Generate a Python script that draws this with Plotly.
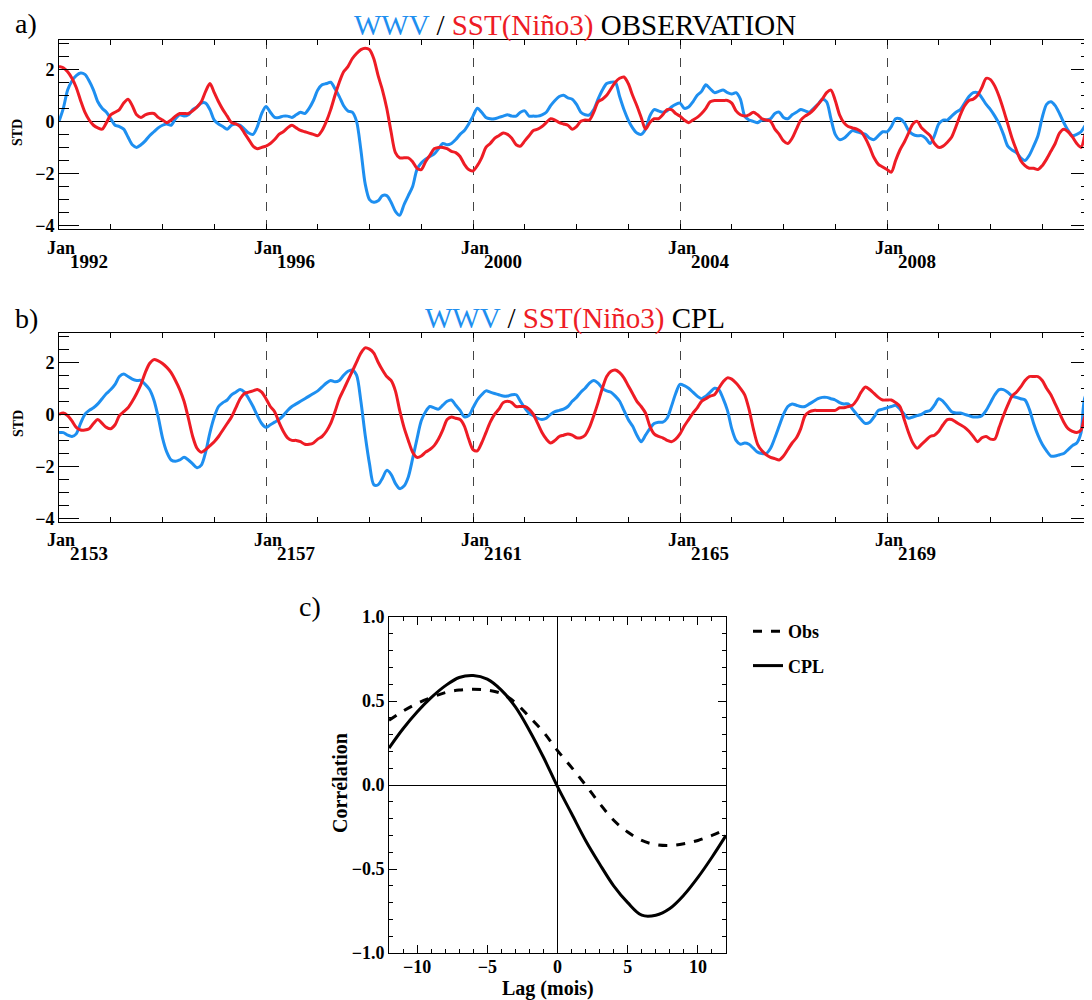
import plotly.graph_objects as go

# ---------------- data ----------------
obs_start = 1992
cpl_start = 2153
n_months = 240

obs_wwv = [
    0.0, 0.5, 1.2, 1.55, 1.75, 1.85, 1.8, 1.55, 1.2, 0.75,
    0.5, 0.35, 0.1, -0.15, -0.2, -0.3, -0.6, -0.9, -1.0, -0.9,
    -0.75, -0.55, -0.4, -0.25, -0.15, -0.1, -0.15, 0.1, 0.25, 0.2,
    0.25, 0.45, 0.55, 0.7, 0.7, 0.45, 0.05, -0.1, -0.2, -0.3,
    -0.15, -0.1, -0.15, -0.3, -0.45, -0.5, -0.2, 0.3, 0.57, 0.35,
    0.15, 0.15, 0.2, 0.2, 0.15, 0.25, 0.35, 0.3, 0.5, 0.8,
    1.2, 1.4, 1.45, 1.5, 1.25, 0.95, 0.6, 0.4, 0.35, 0.0,
    -1.1, -2.4, -3.0, -3.1, -3.05, -2.85, -2.85, -3.1, -3.45, -3.6,
    -3.2, -2.85, -2.5, -1.85, -1.6, -1.45, -1.35, -1.25, -1.05, -0.85,
    -0.9, -0.85, -0.7, -0.5, -0.35, -0.1, 0.2, 0.5, 0.35, 0.15,
    0.1, 0.1, 0.15, 0.2, 0.25, 0.2, 0.2, 0.35, 0.4, 0.2,
    0.2, 0.2, 0.25, 0.35, 0.6, 0.8, 0.95, 1.0, 0.9, 0.85,
    0.65, 0.35, 0.25, 0.25, 0.45, 0.85, 1.2, 1.45, 1.5, 1.5,
    0.95, 0.45, 0.05, -0.25, -0.45, -0.5, -0.3, 0.2, 0.45, 0.4,
    0.35, 0.4, 0.55, 0.65, 0.7, 0.5, 0.55, 0.75, 1.0, 1.15,
    1.4, 1.25, 1.1, 1.15, 1.2, 1.1, 1.05, 1.1, 0.85, 0.2,
    0.05, 0.0, -0.05, 0.05, 0.05, 0.1, 0.3, 0.35, 0.15, 0.1,
    0.25, 0.35, 0.45, 0.4, 0.35, 0.5, 0.65, 0.85, 0.75, 0.1,
    -0.5, -0.7, -0.65, -0.5, -0.35, -0.4, -0.45, -0.5, -0.65, -0.7,
    -0.55, -0.4, -0.4, -0.2, 0.1, 0.1, -0.05, -0.35, -0.5, -0.55,
    -0.55, -0.65, -0.85, -0.55, -0.1, 0.05, 0.05, 0.2, 0.35, 0.45,
    0.7, 0.95, 1.1, 1.1, 0.9, 0.65, 0.45, 0.2, -0.1, -0.5,
    -0.95, -1.1, -1.2, -1.4, -1.5, -1.3, -0.95, -0.55, 0.15, 0.65,
    0.75, 0.6, 0.3, -0.05, -0.35, -0.55, -0.5, -0.4, -0.15, 0.05,
]

obs_sst = [
    2.1, 2.05, 1.9, 1.65, 1.3, 0.8, 0.35, 0.05, -0.15, -0.25,
    -0.3, -0.05, 0.25, 0.35, 0.45, 0.7, 0.85, 0.6, 0.25, 0.15,
    0.25, 0.3, 0.3, 0.15, 0.05, -0.05, 0.05, 0.2, 0.3, 0.3,
    0.3, 0.4, 0.55, 0.75, 1.15, 1.45, 1.1, 0.75, 0.45, 0.2,
    -0.05, -0.1, -0.2, -0.45, -0.7, -0.95, -1.05, -1.0, -0.95, -0.85,
    -0.7, -0.5, -0.4, -0.25, -0.15, -0.25, -0.35, -0.4, -0.45, -0.5,
    -0.55, -0.35, 0.0, 0.45, 1.0, 1.5, 1.9, 2.1, 2.4, 2.6,
    2.75, 2.8, 2.75, 2.4, 1.75, 1.2, 0.5, -0.4, -1.2, -1.4,
    -1.4, -1.4, -1.55, -1.8, -1.85, -1.55, -1.3, -1.05, -1.0, -1.0,
    -1.05, -1.15, -1.2, -1.35, -1.65, -1.85, -1.9, -1.7, -1.4, -1.0,
    -0.85, -0.65, -0.55, -0.45, -0.5, -0.65, -0.9, -0.95, -0.75, -0.55,
    -0.35, -0.3, -0.2, -0.05, 0.1, 0.05, -0.05, -0.1, -0.15, -0.3,
    -0.2, 0.0, 0.05, 0.05, 0.35, 0.75, 0.85, 1.0, 1.25, 1.5,
    1.65, 1.7, 1.45, 1.0, 0.6, 0.15, -0.3, -0.05, 0.1, 0.1,
    0.25, 0.45, 0.45, 0.3, 0.2, 0.05, -0.05, 0.05, 0.15, 0.3,
    0.5, 0.75, 0.8, 0.8, 0.8, 0.8, 0.7, 0.4, 0.25, 0.2,
    0.25, 0.35, 0.25, 0.1, 0.05, 0.0, -0.3, -0.5, -0.75, -0.85,
    -0.65, -0.3, 0.05, 0.2, 0.3, 0.45, 0.65, 0.85, 1.1, 1.2,
    0.8, 0.25, -0.05, -0.2, -0.25, -0.3, -0.4, -0.65, -1.0, -1.4,
    -1.65, -1.75, -1.85, -1.95, -1.5, -1.1, -0.8, -0.45, -0.1, 0.0,
    -0.25, -0.4, -0.55, -0.85, -1.0, -0.95, -0.8, -0.6, -0.2, 0.25,
    0.6, 0.8, 0.85, 1.0, 1.3, 1.65, 1.6, 1.35, 0.95, 0.45,
    -0.1, -0.65, -1.1, -1.5, -1.7, -1.8, -1.8, -1.85, -1.7, -1.45,
    -1.15, -0.85, -0.45, -0.3, -0.4, -0.6, -0.85, -1.0, -0.45, 0.0,
]

cpl_wwv = [
    -0.7, -0.7, -0.8, -0.85, -0.75, -0.35, 0.0, 0.15, 0.25, 0.4,
    0.6, 0.8, 0.95, 1.15, 1.45, 1.55, 1.45, 1.35, 1.3, 1.3,
    1.15, 0.95, 0.55, -0.1, -0.9, -1.45, -1.75, -1.8, -1.75, -1.65,
    -1.75, -1.9, -2.05, -1.95, -1.45, -0.7, -0.1, 0.3, 0.45, 0.55,
    0.75, 0.85, 0.95, 0.85, 0.6, 0.3, -0.05, -0.35, -0.5, -0.4,
    -0.3, -0.2, -0.05, 0.15, 0.3, 0.4, 0.5, 0.6, 0.7, 0.8,
    0.9, 1.05, 1.2, 1.3, 1.25, 1.3, 1.5, 1.65, 1.7, 1.5,
    0.5, -0.8, -1.9, -2.7, -2.7, -2.45, -2.15, -2.3, -2.65, -2.85,
    -2.75, -2.4, -1.7, -0.95, -0.25, 0.1, 0.3, 0.25, 0.2, 0.35,
    0.5, 0.55, 0.35, 0.15, -0.1, -0.05, 0.25, 0.55, 0.75, 0.9,
    0.85, 0.8, 0.75, 0.7, 0.7, 0.75, 0.75, 0.5, 0.25, 0.05,
    -0.05, -0.15, -0.2, -0.15, 0.0, 0.1, 0.15, 0.2, 0.3, 0.5,
    0.65, 0.85, 1.0, 1.2, 1.3, 1.2, 1.0, 0.9, 0.85, 0.7,
    0.5, 0.15, -0.2, -0.45, -0.8, -1.05, -0.8, -0.55, -0.35, -0.3,
    -0.3, -0.15, 0.3, 0.8, 1.15, 1.1, 1.0, 0.85, 0.7, 0.6,
    0.7, 0.85, 1.0, 0.95, 0.6, 0.15, -0.55, -1.0, -1.15, -1.1,
    -1.15, -1.3, -1.45, -1.5, -1.5, -1.3, -0.9, -0.45, 0.0, 0.3,
    0.4, 0.35, 0.3, 0.3, 0.4, 0.5, 0.6, 0.65, 0.65, 0.6,
    0.55, 0.45, 0.4, 0.4, 0.2, 0.0, -0.2, -0.35, -0.3, -0.1,
    0.15, 0.2, 0.25, 0.3, 0.35, 0.2, 0.0, -0.15, -0.1, -0.05,
    0.0, 0.1, 0.15, 0.35, 0.6, 0.5, 0.3, 0.1, 0.05, 0.05,
    0.0, -0.05, -0.1, -0.1, -0.05, 0.15, 0.45, 0.75, 0.95, 0.95,
    0.85, 0.7, 0.65, 0.6, 0.55, 0.2, -0.35, -0.8, -1.15, -1.4,
    -1.6, -1.6, -1.55, -1.5, -1.35, -1.2, -1.1, -0.7, 0.7, 0.7,
]

cpl_sst = [
    0.0, 0.05, -0.05, -0.25, -0.5, -0.6, -0.6, -0.55, -0.35, -0.2,
    -0.35, -0.5, -0.55, -0.4, -0.05, 0.1, 0.25, 0.5, 0.8, 1.15,
    1.6, 1.95, 2.1, 2.05, 1.95, 1.8, 1.6, 1.3, 0.95, 0.5,
    -0.15, -0.85, -1.3, -1.45, -1.35, -1.2, -1.05, -0.85, -0.6, -0.35,
    -0.1, 0.25, 0.6, 0.8, 0.85, 0.9, 0.95, 0.85, 0.6, 0.3,
    0.1, -0.3, -0.65, -0.9, -1.0, -1.0, -1.05, -1.15, -1.15, -1.1,
    -0.95, -0.85, -0.65, -0.35, 0.1, 0.6, 0.95, 1.3, 1.65, 2.0,
    2.35, 2.55, 2.5, 2.35, 2.0, 1.7, 1.45, 1.3, 0.9, 0.15,
    -0.5, -1.0, -1.45, -1.65, -1.6, -1.45, -1.35, -1.2, -0.95, -0.6,
    -0.2, -0.1, -0.15, -0.2, -0.45, -0.95, -1.35, -1.4, -1.1, -0.7,
    -0.3, 0.0, 0.2, 0.45, 0.5, 0.45, 0.3, 0.3, 0.3, 0.2,
    0.0, -0.35, -0.7, -0.95, -1.1, -1.0, -0.85, -0.8, -0.75, -0.8,
    -0.9, -0.9, -0.8, -0.5, -0.05, 0.45, 1.0, 1.45, 1.65, 1.7,
    1.6, 1.4, 1.1, 0.8, 0.5, 0.3, 0.05, -0.45, -0.75, -0.85,
    -0.9, -1.0, -1.05, -0.95, -0.75, -0.45, -0.2, 0.05, 0.25, 0.5,
    0.6, 0.7, 0.75, 1.0, 1.25, 1.4, 1.35, 1.2, 1.0, 0.75,
    0.2, -0.55, -1.15, -1.4, -1.55, -1.65, -1.7, -1.75, -1.6, -1.35,
    -1.1, -0.9, -0.55, -0.05, 0.1, 0.15, 0.15, 0.15, 0.15, 0.15,
    0.15, 0.25, 0.25, 0.3, 0.35, 0.55, 0.85, 1.05, 0.95, 0.8,
    0.65, 0.55, 0.55, 0.55, 0.45, 0.3, -0.2, -0.7, -1.1, -1.3,
    -1.15, -1.0, -0.85, -0.8, -0.65, -0.4, -0.2, -0.2, -0.3, -0.4,
    -0.5, -0.65, -0.85, -1.05, -0.9, -0.85, -0.95, -0.95, -0.5, -0.05,
    0.35, 0.7, 0.85, 1.05, 1.3, 1.45, 1.45, 1.45, 1.3, 1.0,
    0.75, 0.4, 0.05, -0.3, -0.55, -0.65, -0.7, -0.6, -0.05, 0.0,
]

lags = list(range(-12, 13))
corr_obs = [0.385, 0.44, 0.485, 0.52, 0.55, 0.565, 0.57, 0.565, 0.545, 0.49,
            0.405, 0.315, 0.205, 0.105, 0.0, -0.11, -0.21, -0.28, -0.33, -0.355,
            -0.36, -0.35, -0.33, -0.30, -0.265]
corr_cpl = [0.22, 0.335, 0.435, 0.52, 0.59, 0.64, 0.652, 0.63, 0.565, 0.465,
            0.325, 0.165, -0.01, -0.17, -0.33, -0.47, -0.6, -0.70, -0.775, -0.775,
            -0.735, -0.655, -0.55, -0.43, -0.30]

obs_year_labels = [1992, 1996, 2000, 2004, 2008]
cpl_year_labels = [2153, 2157, 2161, 2165, 2169]

# ---------------- styling ----------------
BLUE = "#1E8FF0"
RED = "#EE1C25"
FONT = "Liberation Serif"
OFF = 8                      # page body margin of the html page
FW, FH = 1092 - OFF, 1000 - OFF


def px(x):
    return (x - OFF) / FW


def py(y):
    return 1 - (y - OFF) / FH


x_obs = [obs_start + m / 12 for m in range(n_months)]
x_cpl = [cpl_start + m / 12 for m in range(n_months)]

span_years = (1091 - 59) / 51.75

fig = go.Figure()

for xs, wwv, sst, xa, ya in [(x_obs, obs_wwv, obs_sst, "x", "y"),
                             (x_cpl, cpl_wwv, cpl_sst, "x2", "y2")]:
    fig.add_trace(go.Scatter(x=xs, y=wwv, mode="lines", xaxis=xa, yaxis=ya,
                             line=dict(color=BLUE, width=3, shape="spline", smoothing=0.8),
                             showlegend=False))
    fig.add_trace(go.Scatter(x=xs, y=sst, mode="lines", xaxis=xa, yaxis=ya,
                             line=dict(color=RED, width=3, shape="spline", smoothing=0.8),
                             showlegend=False))

fig.add_trace(go.Scatter(x=lags, y=corr_obs, mode="lines", xaxis="x3", yaxis="y3",
                         name="Obs", legendgroup="obs",
                         line=dict(color="black", width=3, dash="dash", shape="spline")))
fig.add_trace(go.Scatter(x=lags, y=corr_cpl, mode="lines", xaxis="x3", yaxis="y3",
                         name="CPL", legendgroup="cpl",
                         line=dict(color="black", width=3, shape="spline")))

tickfont = dict(family=FONT, size=18, color="black", weight="bold")


def ts_xaxis(start, anchor):
    return dict(domain=[px(59), min(1.0, px(1091))], range=[start, start + span_years], anchor=anchor,
                automargin=False,
                showline=True, linecolor="black", linewidth=1, mirror="ticks",
                ticks="inside", ticklen=5, tickcolor="black", tickwidth=1,
                tick0=start, dtick=4, showticklabels=False,
                showgrid=True, gridcolor="#444", griddash="dash", gridwidth=1,
                zeroline=False,
                minor=dict(dtick=1, tick0=start, ticks="inside", ticklen=5,
                           tickcolor="black", showgrid=False))


def ts_yaxis(top, bottom, anchor):
    return dict(domain=[py(bottom), py(top)], range=[-4.13, 3.12], anchor=anchor,
                automargin=False,
                showline=True, linecolor="black", linewidth=1, mirror="ticks",
                ticks="inside", ticklen=20, tickcolor="black", tickwidth=1,
                tick0=0, dtick=2, tickfont=tickfont, showgrid=False,
                zeroline=True, zerolinecolor="black", zerolinewidth=1,
                minor=dict(dtick=0.5, tick0=0, ticks="inside", ticklen=10,
                           tickcolor="black", showgrid=False))


fig.update_layout(
    template="none",
    width=FW, height=FH, margin=dict(l=0, r=0, t=0, b=0, pad=0, autoexpand=False),
    paper_bgcolor="white", plot_bgcolor="white",
    font=dict(family=FONT, color="black"),
    xaxis=ts_xaxis(obs_start, "y"),
    yaxis=ts_yaxis(40, 229, "x"),
    xaxis2=ts_xaxis(cpl_start, "y2"),
    yaxis2=ts_yaxis(333, 522, "x2"),
    xaxis3=dict(domain=[px(389), px(726)], range=[-12, 12], anchor="y3", automargin=False,
                showline=True, linecolor="black", linewidth=1, mirror="ticks",
                ticks="inside", ticklen=8, tickcolor="black", tick0=0, dtick=5,
                tickfont=tickfont, showgrid=False, ticklabelstandoff=-3,
                zeroline=True, zerolinecolor="black", zerolinewidth=1,
                minor=dict(dtick=1, ticks="inside", ticklen=4, tickcolor="black")),
    yaxis3=dict(domain=[py(953), py(617)], range=[-1, 1], anchor="x3", automargin=False,
                showline=True, linecolor="black", linewidth=1, mirror="ticks",
                ticks="inside", ticklen=8, tickcolor="black", tick0=0, dtick=0.5,
                tickformat=".1f", tickfont=tickfont, showgrid=False,
                zeroline=True, zerolinecolor="black", zerolinewidth=1,
                minor=dict(dtick=0.1, ticks="inside", ticklen=4, tickcolor="black")),
    legend=dict(x=px(748), y=py(613), xanchor="left", yanchor="top",
                bgcolor="rgba(0,0,0,0)", tracegroupgap=8,
                font=dict(family=FONT, size=18, color="black", weight="bold")),
)

ann = []


def title_text(suffix):
    return (f"<span style='color:{BLUE}'>WWV</span> / "
            f"<span style='color:{RED}'>SST(Niño3)</span> {suffix}")


ann.append(dict(text=title_text("OBSERVATION"), x=px(575), y=1.0, xref="paper", yref="paper",
                showarrow=False, font=dict(family=FONT, size=29, color="black"),
                xanchor="center", yanchor="top", borderpad=0))
ann.append(dict(text=title_text("CPL"), x=px(575), y=py(318), xref="paper", yref="paper",
                showarrow=False, font=dict(family=FONT, size=29, color="black"),
                xanchor="center", yanchor="middle", borderpad=0))
for lab, lx, ly in [("a)", 26, 23), ("b)", 26, 318), ("c)", 310, 606)]:
    ann.append(dict(text=lab, x=px(lx), y=py(ly), xref="paper", yref="paper",
                    showarrow=False, font=dict(family=FONT, size=28, color="black"),
                    xanchor="center", yanchor="middle", borderpad=0))
for ly in [133, 424]:
    ann.append(dict(text="STD", x=px(18), y=py(ly), xref="paper", yref="paper",
                    showarrow=False, textangle=-90,
                    font=dict(family=FONT, size=14, color="black", weight="bold"),
                    xanchor="center", yanchor="middle"))

for years, xr, jan_y, yr_y in [(obs_year_labels, "x", 248, 261),
                               (cpl_year_labels, "x2", 540, 553)]:
    for yv in years:
        ann.append(dict(text="Jan", x=yv, y=py(jan_y), xref=xr, yref="paper",
                        showarrow=False, xanchor="center", yanchor="middle", xshift=2,
                        font=dict(family=FONT, size=18, color="black", weight="bold")))
        ann.append(dict(text=str(yv), x=yv, y=py(yr_y), xref=xr, yref="paper",
                        showarrow=False, xanchor="left", yanchor="middle", xshift=9,
                        font=dict(family=FONT, size=19, color="black", weight="bold")))

ann.append(dict(text="Corrélation", x=px(340), y=py(783), xref="paper", yref="paper",
                showarrow=False, textangle=-90,
                font=dict(family=FONT, size=20, color="black", weight="bold"),
                xanchor="center", yanchor="middle"))
ann.append(dict(text="Lag (mois)", x=px(548), y=py(988), xref="paper", yref="paper",
                showarrow=False,
                font=dict(family=FONT, size=20, color="black", weight="bold"),
                xanchor="center", yanchor="middle"))

fig.update_layout(annotations=ann)
fig.write_html("out.html")
